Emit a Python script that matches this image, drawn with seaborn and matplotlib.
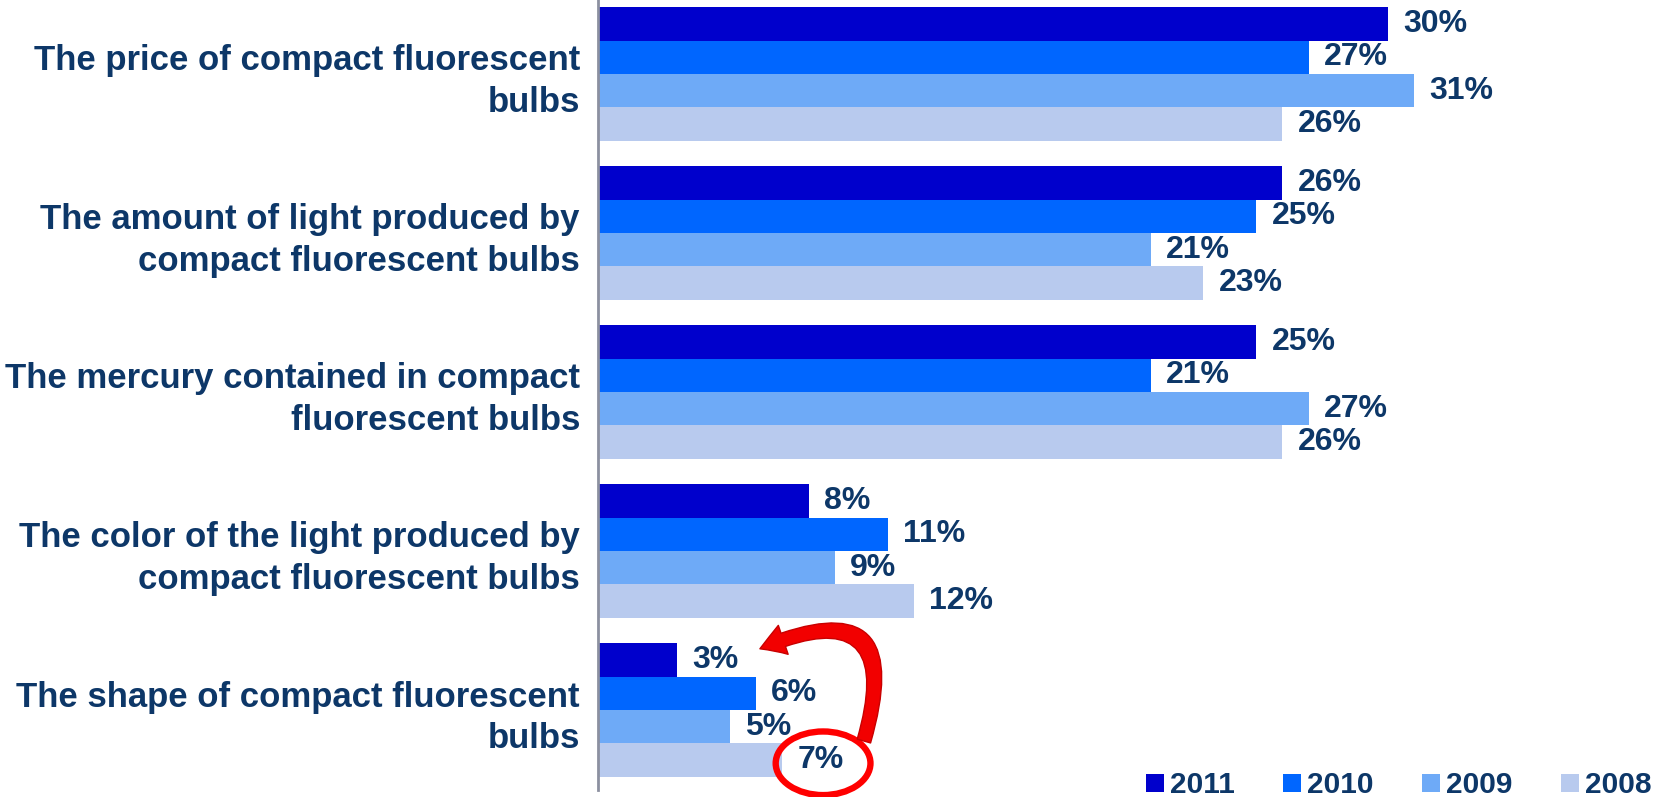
import matplotlib
matplotlib.use("Agg")
import matplotlib.pyplot as plt
import seaborn as sns
import pandas as pd
from matplotlib.lines import Line2D
from matplotlib.patches import Ellipse, FancyArrowPatch

categories = [
    "The price of compact fluorescent\nbulbs",
    "The amount of light produced by\ncompact fluorescent bulbs",
    "The mercury contained in compact\nfluorescent bulbs",
    "The color of the light produced by\ncompact fluorescent bulbs",
    "The shape of compact fluorescent\nbulbs",
]
years = ["2011", "2010", "2009", "2008"]
values_2011 = [30, 26, 25, 8, 3]
values_2010 = [27, 25, 21, 11, 6]
values_2009 = [31, 21, 27, 9, 5]
values_2008 = [26, 23, 26, 12, 7]
colors = ["#0000CC", "#0066FF", "#6EAAF7", "#B8CAEE"]

TEXT = "#0D3768"

sns.set_theme(style="white")
plt.rcParams["font.family"] = ["Liberation Sans", "DejaVu Sans"]
plt.rcParams["font.weight"] = "bold"

series = dict(zip(years, [values_2011, values_2010, values_2009, values_2008]))
df = pd.DataFrame(
    [(c, y, v) for y in years for c, v in zip(categories, series[y])],
    columns=["category", "year", "value"],
)

fig = plt.figure(figsize=(16.61, 7.97), dpi=100)
ax = fig.add_axes([598 / 1661, 7 / 797, 1053 / 1661, 790 / 797])

sns.barplot(
    data=df, y="category", x="value", hue="year", order=categories,
    hue_order=years, palette=colors, orient="h", width=0.84,
    saturation=1, linewidth=0, legend=False, ax=ax,
)

for cont, y in zip(ax.containers, years):
    ax.bar_label(cont, labels=[f"{v}%" for v in series[y]], padding=11,
                 fontsize=23, fontweight="bold", color=TEXT)

ax.set_xlim(0, 40)
ax.set_ylim(4.503, -0.465)
ax.set_xlabel("")
ax.set_ylabel("")
ax.set_xticks([])
ax.tick_params(axis="y", length=0, pad=13)
for lbl in ax.get_yticklabels():
    lbl.set_fontsize(25)
    lbl.set_fontweight("bold")
    lbl.set_color(TEXT)
    lbl.set_linespacing(1.33)
    lbl.set_horizontalalignment("right")
    lbl.set_multialignment("right")

for s in ["top", "right", "bottom"]:
    ax.spines[s].set_visible(False)
ax.spines["left"].set_color("#8C90A0")
ax.spines["left"].set_linewidth(2)

# highlight: 2008 shape value circled, arrow pointing to the 2011 value
n = len(years)
bw = 0.84 / n
last = len(categories) - 1
y08 = last + bw * 1.5
y11 = last - bw * 1.5
v08 = values_2008[last]
v11 = values_2011[last]
ell = Ellipse((v08 + 1.55, y08 + 0.02), width=3.6, height=0.40,
              fill=False, edgecolor="#FF0000", linewidth=4.6, clip_on=False, zorder=5)
ax.add_patch(ell)
arrow = FancyArrowPatch(
    (v08 + 3.1, y08 - 0.12), (v11 + 3.15, y11 - 0.07),
    connectionstyle="arc3,rad=1.05",
    arrowstyle="simple,head_width=1.1,head_length=0.9,tail_width=0.5",
    mutation_scale=20, shrinkA=0, shrinkB=0,
    facecolor="#F20000", edgecolor="#C80000",
    linewidth=1, clip_on=False, zorder=5,
)
ax.add_patch(arrow)

handles = [Line2D([0], [0], marker="s", linestyle="none", markersize=13,
                  markerfacecolor=c, markeredgewidth=0) for c in colors]
fig.legend(handles, years, loc="center right", bbox_to_anchor=(1651 / 1661, 12 / 797),
           ncol=4, frameon=False, borderpad=0, borderaxespad=0,
           handlelength=0.7, handletextpad=0.15, columnspacing=1.57,
           prop={"size": 21.5, "weight": "bold"}, labelcolor=TEXT)

fig.savefig("out.png", dpi=100)
